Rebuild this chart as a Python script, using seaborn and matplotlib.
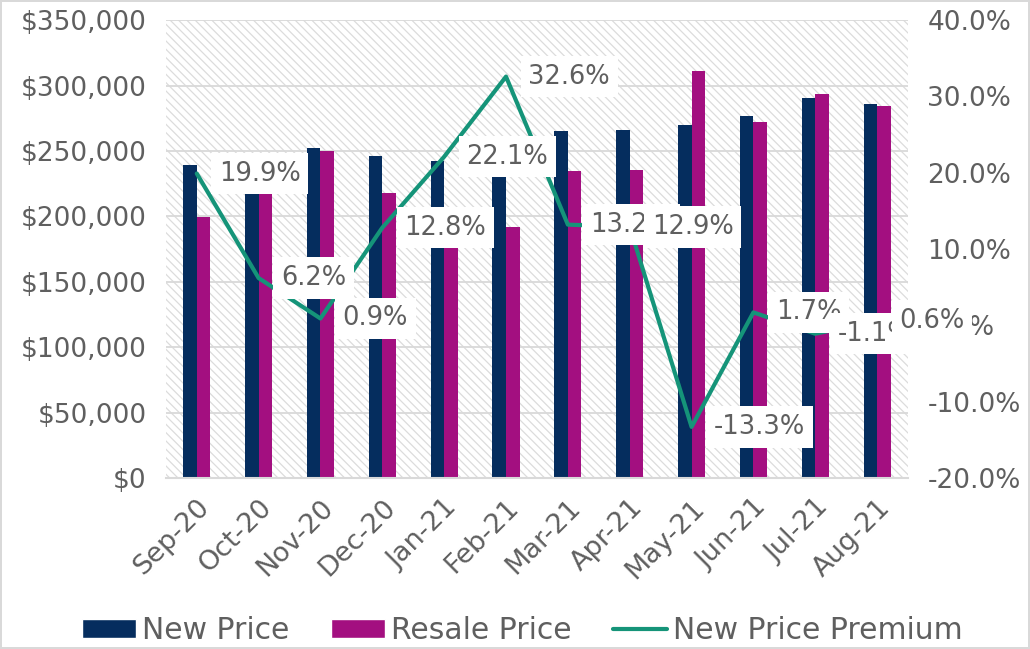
import numpy as np
import pandas as pd
import matplotlib.pyplot as plt
import seaborn as sns
from matplotlib.patches import Patch
from matplotlib.lines import Line2D
from matplotlib.ticker import FuncFormatter, FixedLocator

# --- data ---
months = ['Sep-20', 'Oct-20', 'Nov-20', 'Dec-20', 'Jan-21', 'Feb-21',
          'Mar-21', 'Apr-21', 'May-21', 'Jun-21', 'Jul-21', 'Aug-21']
new_price = [239200, 236000, 252000, 246000, 242300, 254300,
             265200, 266000, 269800, 276700, 290400, 285800]
resale_price = [199500, 222200, 249800, 218000, 198400, 191800,
                234600, 235400, 311000, 272100, 293400, 284300]
premium = [19.9, 6.2, 0.9, 12.8, 22.1, 32.6, 13.2, 12.9, -13.3, 1.7, -1.1, 0.6]

series_names = ['New Price', 'Resale Price', 'New Price Premium']

NAVY = '#052d5e'
MAGENTA = '#a30f80'
TEAL = '#159479'
TEXT = '#5f5f5f'
GRID = '#d9d9d9'

sns.set_style('white')
plt.rcParams['font.family'] = ['DejaVu Sans']
plt.rcParams['hatch.color'] = '#dcdcdc'
plt.rcParams['hatch.linewidth'] = 0.9

# long table for seaborn
df = pd.DataFrame({'month': months * 2,
                   'price': new_price + resale_price,
                   'series': [series_names[0]] * 12 + [series_names[1]] * 12})

fig, ax = plt.subplots(figsize=(10.3, 6.49), dpi=100)
fig.subplots_adjust(left=0.161, right=0.8816, top=0.969, bottom=0.2635)
fig.patch.set_edgecolor(GRID)
fig.patch.set_linewidth(1.5)

# hatched plot area
ax.set_facecolor('white')
ax.patch.set_hatch('\\\\\\\\')
ax.patch.set_edgecolor('#dcdcdc')
ax.patch.set_linewidth(0)

sns.barplot(data=df, x='month', y='price', hue='series', order=months,
            palette=[NAVY, MAGENTA], width=0.44, saturation=1,
            edgecolor='none', linewidth=0,
            legend=False, ax=ax, zorder=2)

ax.set_xlim(-0.5, 11.5)
ax.set_ylim(0, 350000)
ax.set_yticks(np.arange(0, 350001, 50000))
ax.yaxis.set_major_formatter(FuncFormatter(lambda v, p: f'${v:,.0f}'))
ax.yaxis.grid(True, color=GRID, linewidth=1.3)
ax.set_axisbelow(True)
ax.set_xlabel('')
ax.set_ylabel('')
for s in ['top', 'left', 'right']:
    ax.spines[s].set_visible(False)
ax.spines['bottom'].set_color(GRID)
ax.spines['bottom'].set_linewidth(1.5)

ax.tick_params(axis='y', length=0, labelsize=19, labelcolor=TEXT, pad=14)
ax.tick_params(axis='x', which='major', length=0, labelsize=19.5,
               labelcolor=TEXT, pad=12)
ax.xaxis.set_minor_locator(FixedLocator(np.arange(-0.5, 12, 1)))
ax.tick_params(axis='x', which='minor', length=7, width=1.5, color=GRID)
plt.setp(ax.get_xticklabels(), rotation=45, ha='right', rotation_mode='anchor')

# premium line on secondary axis
ax2 = ax.twinx()
sns.lineplot(x=np.arange(len(months)), y=premium, ax=ax2, color=TEAL,
             linewidth=3, zorder=3)
ax2.set_ylim(-20, 40)
ax2.set_yticks(np.arange(-20, 41, 10))
ax2.yaxis.set_major_formatter(FuncFormatter(lambda v, p: f'{v:.1f}%'))
ax2.tick_params(axis='y', length=0, labelsize=19, labelcolor=TEXT, pad=14)
for s in ax2.spines.values():
    s.set_visible(False)
ax2.set_ylabel('')

for i, v in enumerate(premium):
    ax2.annotate(f'{v:.1f}%', (i, v), xytext=(16, 0),
                 textcoords='offset points', ha='left', va='center',
                 fontsize=18.5, color=TEXT, zorder=10, annotation_clip=False,
                 bbox=dict(boxstyle='square,pad=0.3', fc='white', ec='none'))

handles = [Patch(facecolor=NAVY), Patch(facecolor=MAGENTA),
           Line2D([0], [0], color=TEAL, linewidth=3)]
fig.legend(handles, series_names, loc='center', bbox_to_anchor=(0.507, 0.029),
           ncol=3, frameon=False, fontsize=21.5, labelcolor=TEXT,
           handlelength=1.8, handleheight=0.6, handletextpad=0.2,
           columnspacing=1.4)

fig.savefig('out.png', dpi=100)
